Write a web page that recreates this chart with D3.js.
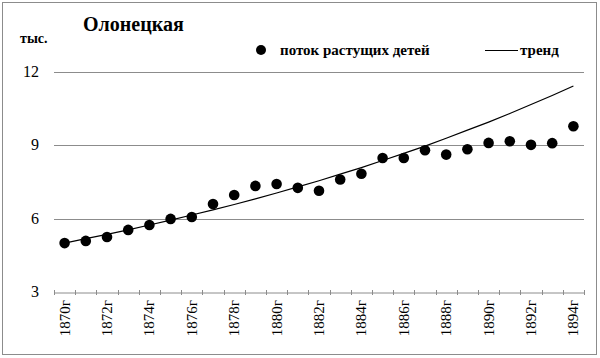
<!DOCTYPE html>
<html><head><meta charset="utf-8">
<script src="https://cdn.jsdelivr.net/npm/d3@7"></script>
<style>
html body svg#c text.t{font-family:'Liberation Serif','Times New Roman',serif !important;}
</style>
</head>
<body style="margin:0">
<svg id="c" width="600" height="358"></svg>
<script>
const years = d3.range(1870, 1895).map(String);
const children = [5.00,5.09,5.25,5.54,5.74,5.99,6.07,6.60,6.97,7.34,7.42,7.26,7.14,7.60,7.84,8.48,8.48,8.80,8.62,8.84,9.10,9.17,9.02,9.09,9.78];
const trend = [5.00,5.18,5.36,5.54,5.74,5.94,6.15,6.36,6.58,6.81,7.05,7.30,7.55,7.82,8.09,8.38,8.67,8.97,9.29,9.62,9.95,10.30,10.67,11.04,11.43];
const yTicks = [3,6,9,12];
const title = "Олонецкая";
const unit = "тыс.";
const legendDots = "поток растущих детей";
const legendLine = "тренд";

const FF = "'Liberation Serif', 'Times New Roman', serif";
const svg = d3.select("#c").style("font-family", FF);
const L = 54, R = 584, T = 72, B = 292;

svg.append("rect").attr("x",2.5).attr("y",2.5).attr("width",594).attr("height",352)
  .attr("fill","#fff").attr("stroke","#8c8c8c").attr("stroke-width",1);

const x = d3.scaleBand().domain(years).range([L,R]);
const y = d3.scaleLinear().domain([3,12]).range([B,T]);

svg.append("g").selectAll("line").data(yTicks.filter(v=>v>3)).join("line")
  .attr("x1",L).attr("x2",R).attr("y1",d=>Math.round(y(d))+0.5).attr("y2",d=>Math.round(y(d))+0.5)
  .attr("stroke","#8c8c8c").attr("stroke-width",1);

svg.selectAll("text.yl").data(yTicks).join("text").attr("class","yl t")
  .style("font-family",FF,"important")
  .attr("x",39).attr("y",d=>y(d)+5).attr("text-anchor","end")
  .attr("font-size",16).attr("fill","#000").text(d=>d);

const xAxis = d3.axisBottom(x).tickSize(0).tickFormat("");
const gx = svg.append("g").attr("transform",`translate(0,${B+0.5})`).call(xAxis);
gx.select(".domain").attr("stroke","#8c8c8c");
const bounds = years.map(d=>x(d)).concat([R]);
svg.append("g").selectAll("line").data(bounds).join("line")
  .attr("x1",d=>Math.round(d)+0.5).attr("x2",d=>Math.round(d)+0.5)
  .attr("y1",B-2).attr("y2",B+3).attr("stroke","#8c8c8c");

svg.selectAll("text.xl").data(years.filter((d,i)=>i%2===0)).join("text").attr("class","xl t")
  .style("font-family",FF,"important")
  .attr("transform",d=>`translate(${x(d)+x.bandwidth()/2+5},300) rotate(-90)`)
  .attr("text-anchor","end").attr("font-size",15).attr("fill","#000").text(d=>d+"г");

const line = d3.line().x((d,i)=>x(years[i])+x.bandwidth()/2).y(d=>y(d));
svg.append("path").datum(trend).attr("d",line).attr("fill","none")
  .attr("stroke","#000").attr("stroke-width",1.2);

svg.append("g").selectAll("circle").data(children).join("circle")
  .attr("cx",(d,i)=>x(years[i])+x.bandwidth()/2).attr("cy",d=>y(d)).attr("r",5.3).attr("fill","#000");

function lbl(tx,px,py,fs){
  svg.append("text").attr("class","t").style("font-family",FF,"important")
    .attr("x",px).attr("y",py).attr("font-size",fs).attr("font-weight","bold").text(tx);
}
lbl(title,83,31,20);
lbl(unit,20,43,14);
svg.append("circle").attr("cx",261).attr("cy",50).attr("r",5).attr("fill","#000");
lbl(legendDots,280,55,15);
svg.append("line").attr("x1",485).attr("x2",518).attr("y1",50.5).attr("y2",50.5).attr("stroke","#000").attr("stroke-width",1.2);
lbl(legendLine,520,55,15);
</script></body></html>
